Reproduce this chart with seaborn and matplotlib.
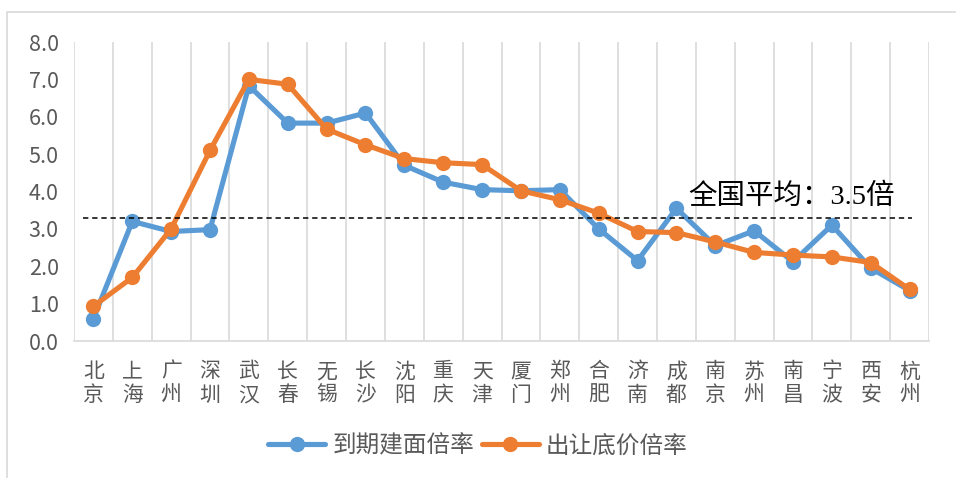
import numpy as np
import pandas as pd
import matplotlib
matplotlib.use('Agg')
import matplotlib.pyplot as plt
import seaborn as sns
from matplotlib.patches import Rectangle

# city names, stacked two characters per label like the source chart
cities = ['北京', '上海', '广州', '深圳', '武汉', '长春', '无锡', '长沙', '沈阳', '重庆', '天津',
          '厦门', '郑州', '合肥', '济南', '成都', '南京', '苏州', '南昌', '宁波', '西安', '杭州']
build_ratio = [0.6, 3.2, 2.93, 2.98, 6.83, 5.83, 5.83, 6.1, 4.7, 4.25, 4.05,
               4.02, 4.05, 3.0, 2.15, 3.55, 2.55, 2.95, 2.12, 3.1, 1.95, 1.35]
price_ratio = [0.93, 1.7, 3.0, 5.1, 7.0, 6.87, 5.67, 5.25, 4.88, 4.77, 4.72,
               4.02, 3.78, 3.42, 2.93, 2.9, 2.65, 2.37, 2.3, 2.25, 2.1, 1.38]
series_names = ['到期建面倍率', '出让底价倍率']
national_avg = 3.3
avg_label = '全国平均：3.5倍'

sns.set_style('white')
plt.rcParams['font.family'] = ['Noto Sans CJK SC', 'DejaVu Sans']

labels = ['\n'.join(c) for c in cities]
df = pd.DataFrame({'city': labels, series_names[0]: build_ratio, series_names[1]: price_ratio})

fig = plt.figure(figsize=(9.56, 4.78), dpi=100)
ax = fig.add_axes([0.0774, 0.2866, 0.8944, 0.6255])

colors = ['#5B9BD5', '#ED7D31']
for name, col in zip(series_names, colors):
    sns.lineplot(data=df, x='city', y=name, ax=ax, color=col, linewidth=3.7,
                 marker='o', markersize=11, markeredgewidth=0, label=name,
                 sort=False, legend=False)

ax.hlines(national_avg, -0.27, 21.07, colors='black', linestyles=(0, (3.5, 2.5)), linewidth=1.1)
ax.text(15.3, 3.66, avg_label, fontsize=20.5, color='#000000',
        family=['Liberation Serif', 'Noto Sans CJK SC'], va='baseline', ha='left')

ax.set_xlim(-0.5, len(cities) - 0.5)
ax.set_ylim(0, 8)
ax.set_yticks(np.arange(0, 8.1, 1))
ax.set_yticklabels(['%.1f' % v for v in np.arange(0, 8.1, 1)])
ax.set_xlabel('')
ax.set_ylabel('')

# vertical gridlines between categories
ax.set_xticks(np.arange(-0.5, len(cities), 1), minor=True)
ax.grid(which='minor', axis='x', color='#d9d9d9', linewidth=1.2)
ax.grid(which='major', visible=False)
ax.tick_params(axis='x', which='both', length=0, pad=14, labelsize=15, labelcolor='#595959')
ax.tick_params(axis='y', length=0, pad=11, labelsize=15.5, labelcolor='#595959')
for lab in ax.get_xticklabels():
    lab.set_linespacing(1.1)

for s in ['top', 'right', 'left']:
    ax.spines[s].set_visible(False)
ax.spines['bottom'].set_color('#d9d9d9')
ax.spines['bottom'].set_linewidth(1.2)

handles, lbls = ax.get_legend_handles_labels()
fig.legend(handles, lbls, loc='center', bbox_to_anchor=(0.5, 0.067), ncol=2, frameon=False,
           fontsize=17, labelcolor='#595959', handlelength=2.4, handletextpad=0.3,
           columnspacing=0.35)

fig.patches.append(Rectangle((0.0073, -0.1), 1.1, 1.075, transform=fig.transFigure,
                             fill=False, edgecolor='#d9d9d9', linewidth=1.2))

fig.savefig('out.png', dpi=100)
